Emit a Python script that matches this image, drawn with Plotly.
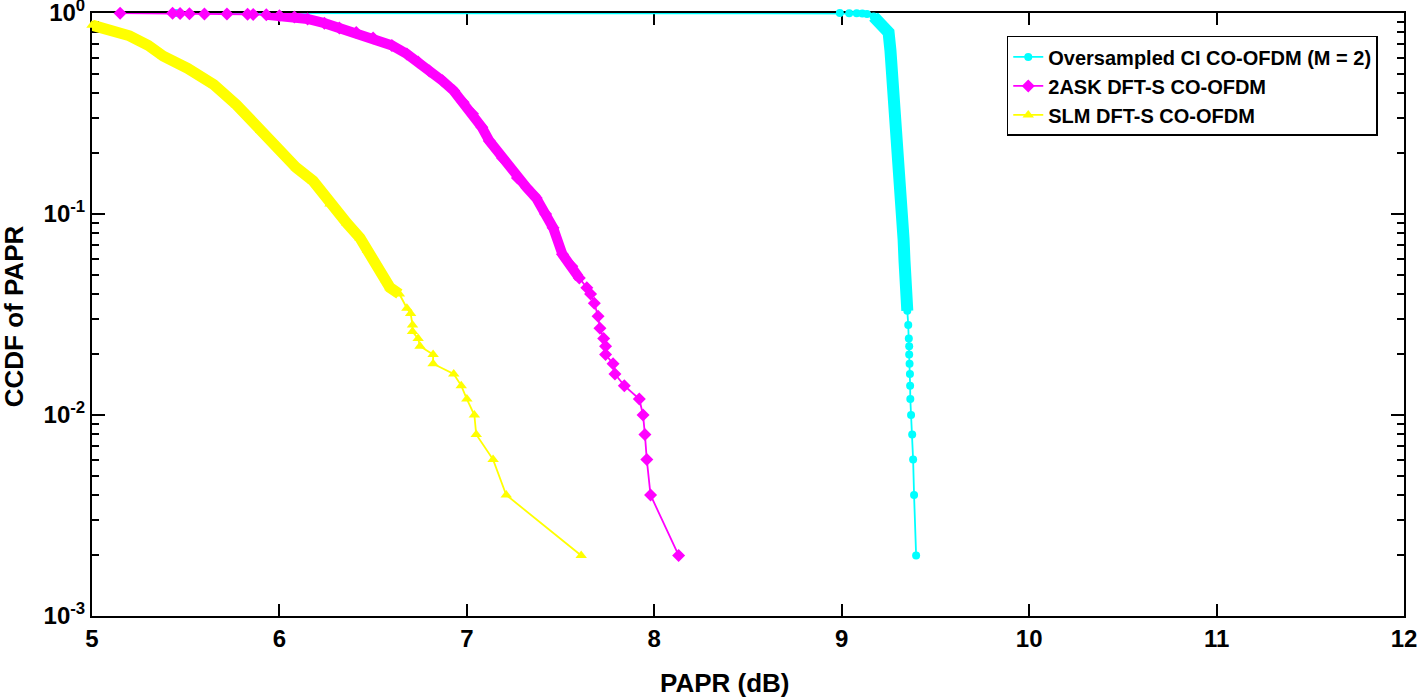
import plotly.graph_objects as go

# ---- data (PAPR in dB, CCDF) ----
ci_papr = [5.45, 8.99, 9.04, 9.08, 9.11, 9.135, 9.17, 9.19, 9.22, 9.25, 9.26, 9.27, 9.28,
           9.29, 9.30, 9.31, 9.32, 9.33, 9.335, 9.34, 9.35, 9.355, 9.358, 9.36, 9.36,
           9.362, 9.364, 9.365, 9.366, 9.370, 9.376, 9.381, 9.386, 9.397]
ci_ccdf = [1.0, 1.0, 0.998, 0.996, 0.994, 0.99, 0.96, 0.913, 0.85, 0.80, 0.65, 0.50, 0.366,
           0.27, 0.206, 0.15, 0.096, 0.075, 0.0586, 0.047, 0.033, 0.028, 0.024, 0.022, 0.020,
           0.018, 0.016, 0.014, 0.012, 0.010, 0.008, 0.006, 0.004, 0.002]

ask_papr = [5.15, 5.43, 5.47, 5.52, 5.60, 5.72, 5.83, 5.86, 5.93, 6.00, 6.08, 6.15, 6.24,
            6.32, 6.41, 6.50, 6.60, 6.68, 6.74, 6.80, 6.87, 6.93, 6.98, 7.03, 7.08, 7.12,
            7.19, 7.27, 7.32, 7.37, 7.42, 7.46, 7.51, 7.56, 7.60, 7.64, 7.66, 7.68, 7.70,
            7.71, 7.73, 7.74, 7.74, 7.78, 7.79, 7.84, 7.92, 7.94, 7.95, 7.96, 7.98, 8.13]
ask_ccdf = [0.998, 0.996, 0.994, 0.992, 0.990, 0.988, 0.986, 0.984, 0.98, 0.97, 0.955, 0.934,
            0.89, 0.842, 0.80, 0.751, 0.69, 0.625, 0.57, 0.515, 0.46, 0.41, 0.36, 0.315, 0.27,
            0.231, 0.19, 0.151, 0.135, 0.12, 0.10, 0.0855, 0.063, 0.055, 0.048, 0.043, 0.040,
            0.036, 0.031, 0.027, 0.024, 0.022, 0.020, 0.018, 0.016, 0.014, 0.012, 0.010,
            0.008, 0.006, 0.004, 0.002]

slm_papr = [5.00, 5.10, 5.20, 5.30, 5.38, 5.51, 5.65, 5.77, 5.90, 6.00, 6.09, 6.18, 6.27,
            6.36, 6.43, 6.47, 6.57, 6.59, 6.64, 6.68, 6.70, 6.71, 6.71, 6.74, 6.75, 6.82,
            6.82, 6.93, 6.97, 7.00, 7.04, 7.05, 7.14, 7.21, 7.61]
slm_ccdf = [0.87, 0.82, 0.77, 0.69, 0.61, 0.53, 0.44, 0.35, 0.26, 0.21, 0.17, 0.146, 0.112,
            0.09, 0.076, 0.066, 0.047, 0.043, 0.040, 0.034, 0.032, 0.028, 0.026, 0.024, 0.022,
            0.020, 0.018, 0.016, 0.014, 0.012, 0.010, 0.008, 0.006, 0.004, 0.002]

names = ["Oversampled CI CO-OFDM (M = 2)", "2ASK DFT-S CO-OFDM", "SLM DFT-S CO-OFDM"]
x_title = "PAPR (dB)"
y_title = "CCDF of PAPR"
x_ticks = [5, 6, 7, 8, 9, 10, 11, 12]
y_ticks = [1e-3, 1e-2, 1e-1, 1]
y_ticktext = ["10<sup>-3</sup>", "10<sup>-2</sup>", "10<sup>-1</sup>", "10<sup>0</sup>"]

CYAN = "#00FFFF"
MAGENTA = "#FF00FF"
YELLOW = "#FFFF00"
FAM = "Liberation Sans, Arial, sans-serif"

fig = go.Figure()

series = [
    (ci_papr, ci_ccdf, names[0], CYAN, "circle", 8, (0.03, 0.97), 12),
    (ask_papr, ask_ccdf, names[1], MAGENTA, "diamond", 10, (0.045, 0.982), 10),
    (slm_papr, slm_ccdf, names[2], YELLOW, "triangle-up", 10, (0.04, 1.0), 11),
]

for xs, ys, nm, col, sym, msz, (lo, hi), bw in series:
    # dense region drawn as a thick band (many overlapping markers in the reference)
    bx = [x for x, y in zip(xs, ys) if lo <= y <= hi]
    by = [y for y in ys if lo <= y <= hi]
    fig.add_trace(go.Scatter(x=bx, y=by, mode="lines", showlegend=False,
                             line=dict(color=col, width=bw), cliponaxis=False,
                             hoverinfo="skip"))
    fig.add_trace(go.Scatter(x=xs, y=ys, mode="lines+markers", name=nm,
                             line=dict(color=col, width=1.8),
                             marker=dict(symbol=sym, size=msz, color=col,
                                         line=dict(width=0)),
                             cliponaxis=False))

tick_font = dict(family=FAM, size=24, color="black", weight="bold")
title_font = dict(family=FAM, size=26, color="black", weight="bold")

fig.update_layout(
    width=1417, height=700,
    margin=dict(l=92, r=13, t=13, b=84, autoexpand=False),
    paper_bgcolor="white", plot_bgcolor="white",
    font=dict(family=FAM, color="black"),
    showlegend=True,
    legend=dict(
        x=0.980, y=0.962, xanchor="right", yanchor="top",
        bgcolor="white", bordercolor="black", borderwidth=1.5,
        font=dict(family=FAM, size=20, color="black", weight="bold"),
        tracegroupgap=0, itemwidth=30,
    ),
    xaxis=dict(
        range=[5, 12], tickvals=x_ticks, ticktext=[str(v) for v in x_ticks],
        ticks="inside", ticklen=12, tickwidth=1.5, tickcolor="black",
        showline=True, linecolor="black", linewidth=2, mirror="allticks",
        showgrid=False, zeroline=False, layer="below traces",
        automargin=False, ticklabeloverflow="allow",
        tickfont=tick_font,
    ),
    yaxis=dict(
        type="log", range=[-3, 0], tickvals=y_ticks, ticktext=y_ticktext,
        ticks="inside", ticklen=13, tickwidth=1.5, tickcolor="black",
        showline=True, linecolor="black", linewidth=2, mirror="allticks",
        showgrid=False, zeroline=False, layer="below traces",
        automargin=False, ticklabeloverflow="allow",
        tickfont=tick_font,
        minor=dict(ticks="inside", ticklen=7, tickwidth=1.5, tickcolor="black",
                   tickvals=[m * 10.0 ** e for e in (-3, -2, -1) for m in range(2, 10)],
                   showgrid=False),
    ),
    annotations=[
        dict(text=x_title, xref="paper", yref="paper", x=0.4825, y=-0.111,
             xanchor="center", yanchor="middle", showarrow=False, font=title_font),
        dict(text=y_title, xref="paper", yref="paper", x=-0.0595, y=0.497,
             xanchor="center", yanchor="middle", showarrow=False, textangle=-90,
             font=title_font),
    ],
)

fig.write_html("out.html", config={"displayModeBar": False},
               post_script="document.body.style.margin='0';document.body.style.overflow='hidden';")
